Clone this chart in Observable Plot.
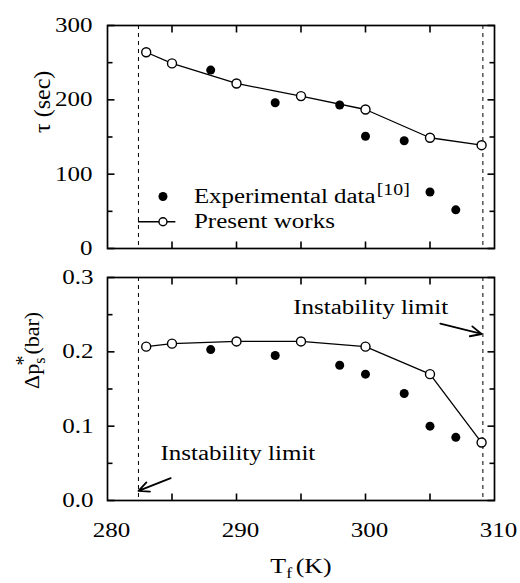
<!DOCTYPE html>
<html><head><meta charset="utf-8">
<script src="https://cdn.jsdelivr.net/npm/d3@7"></script>
<script src="https://cdn.jsdelivr.net/npm/@observablehq/plot@0.6"></script>
<style>
body{margin:0;background:#fff}
#chart svg{display:block}
</style></head><body><div id="chart"></div>
<script>
// ---- data ----
const presentT   = [283, 285, 290, 295, 300, 305, 309];
const presentTau = [264, 249, 222, 205, 187, 149, 139];
const presentDp  = [0.207, 0.211, 0.214, 0.214, 0.207, 0.170, 0.078];
const expT       = [288, 293, 298, 300, 303, 305, 307];
const expTau     = [240, 196, 193, 151, 145, 76, 52];
const expDp      = [0.203, 0.195, 0.182, 0.170, 0.144, 0.100, 0.085];
const limitT     = [282.4, 309.1];
const xTickLabels = [280, 290, 300, 310];
const xMinorTicks = [285, 290, 295, 300, 305];
const tauTicks   = [0, 100, 200, 300];
const tauMinor   = [50, 150, 250];
const dpTicks    = [0, 0.1, 0.2, 0.3];
const dpMinor    = [0.05, 0.15, 0.25];
const legendLabels = ["Experimental data", "Present works"];
const legendPos  = {x: 284.3, yExp: 70, yPres: 36, textX: 286.7, lineX1: 282.4, lineX2: 285.3};
const limitLabel = "Instability limit";
const annotations = [
  {x: 294.4, y: 0.259, text: limitLabel},
  {x: 284.1, y: 0.063, text: limitLabel}
];
const arrows = [
  {x1: 305.8, y1: 0.238, x2: 309.0, y2: 0.224},
  {x1: 284.9, y1: 0.030, x2: 282.4, y2: 0.013}
];

const present = presentT.map((t, i) => ({t, tau: presentTau[i], dp: presentDp[i]}));
const expData = expT.map((t, i) => ({t, tau: expTau[i], dp: expDp[i]}));

const W = 520, ML = 107, MR = 26;
const PW = W - ML - MR;   // plot width in px
const PH = 223;           // plot height in px
const X0 = 280, X1 = 310;
const FAMILY = "'Liberation Serif', 'Times New Roman', Tinos, 'DejaVu Serif', serif";
const STYLE = `font-family: ${FAMILY}; font-size: 20px; color: black; background: white;`;

// inward tick marks on all four sides of the frame (lengths in px converted to data units)
function frameTicks(yMax, yMajor, yMinor) {
  const ty = len => len * yMax / PH;
  const tx = len => len * (X1 - X0) / PW;
  const segs = [
    ...xMinorTicks.map(v => ({x1: v, x2: v, y1: 0, y2: ty(7)})),
    ...xMinorTicks.map(v => ({x1: v, x2: v, y1: yMax - ty(7), y2: yMax})),
    ...yMajor.map(v => ({x1: X0, x2: X0 + tx(7), y1: v, y2: v})),
    ...yMajor.map(v => ({x1: X1 - tx(7), x2: X1, y1: v, y2: v})),
    ...yMinor.map(v => ({x1: X0, x2: X0 + tx(5), y1: v, y2: v})),
    ...yMinor.map(v => ({x1: X1 - tx(5), x2: X1, y1: v, y2: v}))
  ];
  return [
    Plot.link(segs, {x1: "x1", x2: "x2", y1: "y1", y2: "y2", stroke: "black", strokeWidth: 1.6}),
    Plot.frame({stroke: "black", strokeWidth: 1.7})
  ];
}

const topPlot = Plot.plot({
  width: W, height: 262,
  marginLeft: ML, marginRight: MR, marginTop: 25, marginBottom: 14,
  style: STYLE,
  x: {domain: [X0, X1], axis: null},
  y: {domain: [0, 300], axis: null},
  marks: [
    Plot.axisY(tauTicks, {tickSize: 0, tickPadding: 15, fontSize: 20, label: null}),
    Plot.ruleX(limitT, {stroke: "black", strokeWidth: 1, strokeDasharray: "4,4"}),
    ...frameTicks(300, tauTicks, tauMinor),
    Plot.line(present, {x: "t", y: "tau", stroke: "black", strokeWidth: 1.3}),
    Plot.dot(expData, {x: "t", y: "tau", r: 4.5, fill: "black"}),
    Plot.dot(present, {x: "t", y: "tau", r: 4.5, fill: "white", stroke: "black", strokeWidth: 1.4}),
    Plot.dot([legendPos], {x: "x", y: "yExp", r: 4.5, fill: "black"}),
    Plot.ruleY([legendPos], {y: "yPres", x1: "lineX1", x2: "lineX2", stroke: "black", strokeWidth: 1.3}),
    Plot.dot([legendPos], {x: "x", y: "yPres", r: 4, fill: "white", stroke: "black", strokeWidth: 1.4}),
    Plot.text([legendPos], {x: "textX", y: "yExp", text: () => legendLabels[0], textAnchor: "start", fontSize: 20}),
    Plot.text([legendPos], {x: "textX", y: "yPres", text: () => legendLabels[1], textAnchor: "start", fontSize: 20}),
    Plot.text([0], {text: () => "τ (sec)", frameAnchor: "left", dx: -65, dy: -4, rotate: -90, fontSize: 24})
  ]
});

const bottomPlot = Plot.plot({
  width: W, height: 321,
  marginLeft: ML, marginRight: MR, marginTop: 15, marginBottom: 83,
  style: STYLE,
  x: {domain: [X0, X1], axis: null},
  y: {domain: [0, 0.3], axis: null},
  marks: [
    Plot.axisY(dpTicks, {tickSize: 0, tickPadding: 14, fontSize: 20, tickFormat: d3.format(".1f"), label: null}),
    Plot.axisX(xTickLabels, {tickSize: 0, tickPadding: 22, fontSize: 20, dx: 4, label: null}),
    Plot.ruleX(limitT, {stroke: "black", strokeWidth: 1, strokeDasharray: "4,4"}),
    ...frameTicks(0.3, dpTicks, dpMinor),
    Plot.line(present, {x: "t", y: "dp", stroke: "black", strokeWidth: 1.3}),
    Plot.dot(expData, {x: "t", y: "dp", r: 4.5, fill: "black"}),
    Plot.dot(present, {x: "t", y: "dp", r: 4.5, fill: "white", stroke: "black", strokeWidth: 1.4}),
    Plot.text(annotations, {x: "x", y: "y", text: "text", textAnchor: "start", fontSize: 20}),
    Plot.arrow(arrows, {x1: "x1", y1: "y1", x2: "x2", y2: "y2", stroke: "black", strokeWidth: 1.8, headLength: 10, headAngle: 50}),
    Plot.text([0], {text: () => "Δp", frameAnchor: "left", dx: -76, rotate: -90, fontSize: 22}),
    Plot.text([0], {text: () => "T", frameAnchor: "bottom", dy: 72, fontSize: 22})
  ]
});

const chart = document.getElementById("chart");
chart.appendChild(topPlot);
chart.appendChild(bottomPlot);

const NS = "http://www.w3.org/2000/svg";
function tspan(parent, txt, attrs) {
  const s = document.createElementNS(NS, "tspan");
  for (const k in attrs) s.setAttribute(k, attrs[k]);
  s.textContent = txt;
  parent.appendChild(s);
  return s;
}
function findText(svg, content) {
  return Array.from(svg.querySelectorAll("text")).find(t => t.textContent === content);
}
const expText = findText(topPlot, legendLabels[0]);
if (expText) tspan(expText, "[10]", {dx: "1", dy: "-8", "font-size": "16"});
const dpLabel = findText(bottomPlot, "Δp");
if (dpLabel) {
  tspan(dpLabel, "s", {dy: "6", "font-size": "16"});
  tspan(dpLabel, "*", {dx: "-8", dy: "-15", "font-size": "20"});
  tspan(dpLabel, "(bar)", {dx: "1", dy: "9"});
}
const xLabel = findText(bottomPlot, "T");
if (xLabel) {
  tspan(xLabel, "f", {dy: "5", "font-size": "15"});
  tspan(xLabel, "(K)", {dx: "3", dy: "-5"});
}
for (const svg of [topPlot, bottomPlot]) {
  svg.querySelectorAll("text").forEach(t => {
    t.style.fontFamily = FAMILY;
    if ((t.getAttribute("transform") || "").includes("rotate")) return;
    const L = t.getComputedTextLength();
    t.setAttribute("textLength", (L * 1.25).toFixed(1));
    t.setAttribute("lengthAdjust", "spacingAndGlyphs");
  });
}
</script>
</body></html>
